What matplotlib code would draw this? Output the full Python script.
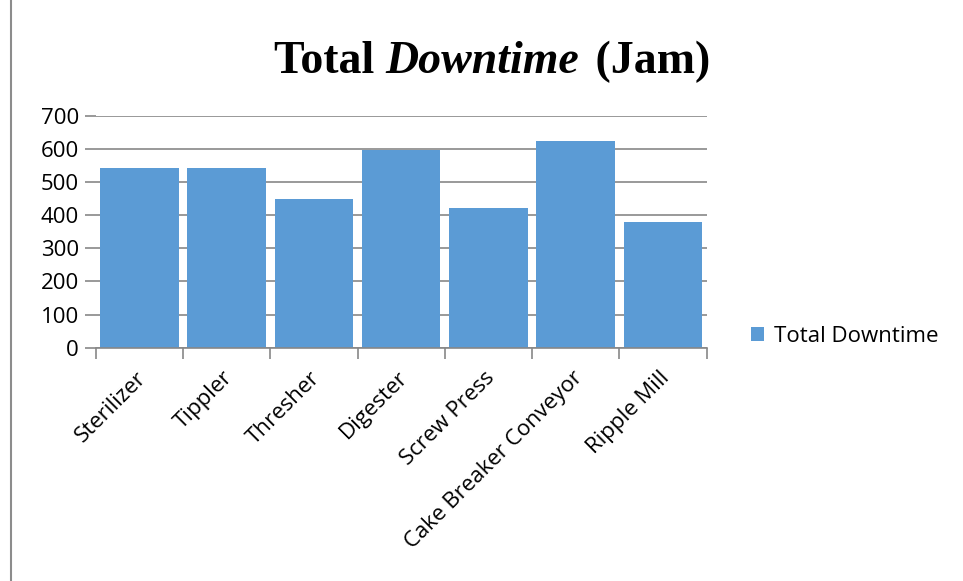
import matplotlib
matplotlib.use("Agg")
import matplotlib.pyplot as plt
import matplotlib.transforms as mtransforms
from matplotlib.patches import Patch
from matplotlib.lines import Line2D

categories = ["Sterilizer", "Tippler", "Thresher", "Digester", "Screw Press",
              "Cake Breaker Conveyor", "Ripple Mill"]
downtime = [543, 543, 449, 597, 420, 625, 378]
y_ticks = [0, 100, 200, 300, 400, 500, 600, 700]
series_name = "Total Downtime"

W, H = 963, 581
fig = plt.figure(figsize=(W / 100, H / 100), dpi=100)
fig.patch.set_facecolor("white")

label_font = "Open Sans"
label_size = 16
grid_color = "#878787"
bar_color = "#5B9BD5"

# plot area in pixel coordinates
x0, x1 = 95.7, 706.7
y_top, y_bot = 115.7, 347.7
ax = fig.add_axes([x0 / W, 1 - y_bot / H, (x1 - x0) / W, (y_bot - y_top) / H])

xs = list(range(len(categories)))
ax.bar(xs, downtime, width=0.9, color=bar_color, zorder=3)

ax.set_xlim(-0.5, len(categories) - 0.5)
ax.set_ylim(0, 700)
ax.set_yticks(y_ticks)
ax.set_yticklabels([str(v) for v in y_ticks], fontfamily=label_font, fontsize=label_size)
ax.yaxis.grid(True, color=grid_color, linewidth=1.2, zorder=0)
ax.tick_params(axis="y", length=8, width=1.2, color=grid_color, pad=4)

# category labels at bar centres, ticks at boundaries
ax.set_xticks(xs)
ax.set_xticklabels(categories, rotation=45, ha="right", va="top",
                   rotation_mode="anchor", fontfamily=label_font, fontsize=label_size)
ax.tick_params(axis="x", length=0, pad=9)
ax.set_xticks([i - 0.5 for i in range(len(categories) + 1)], minor=True)
ax.tick_params(axis="x", which="minor", length=8, width=1.2, color=grid_color)
shift = mtransforms.ScaledTranslation(-4 / 100, -7 / 100, fig.dpi_scale_trans)
for lbl in ax.get_xticklabels():
    lbl.set_transform(lbl.get_transform() + shift)

for s in ["top", "right", "left"]:
    ax.spines[s].set_visible(False)
ax.spines["bottom"].set_color(grid_color)
ax.spines["bottom"].set_linewidth(1.2)
ax.spines["bottom"].set_zorder(4)

# legend
handle = Patch(facecolor=bar_color, edgecolor="none")
fig.legend([handle], [series_name], loc="center left",
           bbox_to_anchor=(731 / W, 1 - 336 / H), frameon=False,
           prop={"family": label_font, "size": label_size},
           handlelength=0.6, handleheight=0.6, handletextpad=0.45)

# thin border line at the left edge
fig.add_artist(Line2D([11 / W, 11 / W], [0, 1], color="#8c8c8c", linewidth=1.5))

# title: mixed upright / italic bold serif
tkw = dict(fontfamily="Liberation Serif", fontweight="bold", fontsize=33)
t1 = fig.text(274 / W, 1 - 73 / H, "Total ", ha="left", va="baseline", **tkw)
t2 = fig.text(0, 0, "Downtime", ha="left", va="baseline", fontstyle="italic", **tkw)
t3 = fig.text(0, 0, " (Jam)", ha="left", va="baseline", **tkw)

fig.canvas.draw()
r = fig.canvas.get_renderer()
bb1 = t1.get_window_extent(r)
t2.set_position((bb1.x1 / W, 1 - 73 / H))
bb2 = t2.get_window_extent(r)
t3.set_position((bb2.x1 / W + 4 / W, 1 - 73 / H))

fig.savefig("out.png", dpi=100, facecolor="white")
